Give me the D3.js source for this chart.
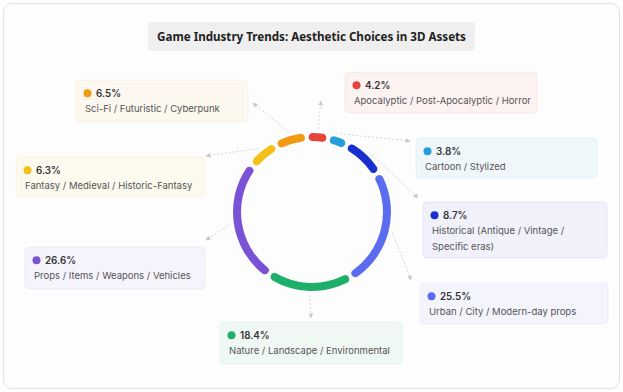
<!DOCTYPE html>
<html><head><meta charset="utf-8">
<script src="https://cdn.jsdelivr.net/npm/d3@7"></script>
<style>
html,body{margin:0;padding:0;background:#fff;}
svg{display:block;}
</style></head>
<body><svg id="chart" width="623" height="392"></svg>
<script>
const title = "Game Industry Trends: Aesthetic Choices in 3D Assets";
const categories = [
  "Apocalyptic / Post-Apocalyptic / Horror",
  "Cartoon / Stylized",
  "Historical (Antique / Vintage / Specific eras)",
  "Urban / City / Modern-day props",
  "Nature / Landscape / Environmental",
  "Props / Items / Weapons / Vehicles",
  "Fantasy / Medieval / Historic-Fantasy",
  "Sci-Fi / Futuristic / Cyberpunk"
];
const values = [4.2, 3.8, 8.7, 25.5, 18.4, 26.6, 6.3, 6.5];
const colors = ["#e5443b", "#259fda", "#1a2fcf", "#5b6cee", "#1eb06a", "#7a52d6", "#f4bf17", "#f29a12"];

// label box layout (annotation placement)
const boxLayout = [
  {x:345, y:72,  w:192, h:41, ex:321, ey:101, wrap:190},
  {x:416, y:138, w:181, h:40, ex:410, ey:141, wrap:170},
  {x:423, y:202, w:184, h:56, ex:418, ey:198, wrap:140},
  {x:420, y:283, w:188, h:41, ex:411, ey:280, wrap:180},
  {x:220, y:322, w:182, h:42, ex:311, ey:318, wrap:180},
  {x:25,  y:247, w:180, h:42, ex:206, ey:240, wrap:180},
  {x:16,  y:157, w:189, h:40, ex:206, ey:156, wrap:185},
  {x:76,  y:80,  w:172, h:42, ex:253, ey:103, wrap:170}
];

const svg = d3.select("#chart");
const W = 623, H = 392;
const cx = 312, cy = 212, rOuter = 79, rInner = 71;

svg.append("rect").attr("x",3.5).attr("y",3.5).attr("width",W-7).attr("height",H-7)
  .attr("rx",8).attr("fill","#fdfdfd").attr("stroke","#e2e2e2");

// title
const tg = svg.append("g");
tg.append("rect").attr("x",148).attr("y",22).attr("width",327).attr("height",29).attr("rx",4).attr("fill","#efefef");
tg.append("text").attr("x",311.5).attr("y",41).attr("text-anchor","middle")
  .attr("font-family","'Noto Sans', 'Open Sans', sans-serif").attr("font-weight","bold")
  .attr("font-size","11.6px").attr("fill","#222").text(title);

const defs = svg.append("defs");
defs.append("marker").attr("id","arr").attr("viewBox","0 0 10 10").attr("refX",9).attr("refY",5)
  .attr("markerWidth",5).attr("markerHeight",5).attr("orient","auto")
  .append("path").attr("d","M0,0 L10,5 L0,10 z").attr("fill","#c8c8c8");

const data = categories.map((c,i)=>({cat:c, value:values[i], color:colors[i], box:boxLayout[i]}));
const off = -0.07;
const pie = d3.pie().sort(null).value(d=>d.value).startAngle(off).endAngle(2*Math.PI+off).padAngle(0.035);
const arcs = pie(data);
const arc = d3.arc().innerRadius(rInner).outerRadius(rOuter).cornerRadius(4);

const g = svg.append("g").attr("transform",`translate(${cx},${cy})`);

// connectors
arcs.forEach(a=>{
  const mid = (a.startAngle+a.endAngle)/2;
  const r0 = rOuter + 4;
  const sx = cx + r0*Math.sin(mid), sy = cy - r0*Math.cos(mid);
  svg.append("line").attr("x1",sx).attr("y1",sy).attr("x2",a.data.box.ex).attr("y2",a.data.box.ey)
    .attr("stroke","#d4d4d4").attr("stroke-width",1).attr("stroke-dasharray","2,2")
    .attr("marker-end","url(#arr)");
});

g.selectAll("path.slice").data(arcs).join("path").attr("class","slice")
  .attr("d",arc).attr("fill",d=>d.data.color);

// label boxes
const fmt = d3.format(".1f");
data.forEach(d=>{
  const b = d.box;
  const bg = svg.append("g").attr("transform",`translate(${b.x},${b.y})`);
  bg.append("rect").attr("width",b.w).attr("height",b.h).attr("rx",4)
    .attr("fill",d.color).attr("fill-opacity",0.06)
    .attr("stroke",d.color).attr("stroke-opacity",0.07);
  bg.append("circle").attr("cx",11.5).attr("cy",13.3).attr("r",4).attr("fill",d.color);
  bg.append("text").attr("x",20).attr("y",17).attr("font-family","Inter, sans-serif")
    .attr("font-weight","600").attr("font-size","9.8px").attr("fill","#333").text(fmt(d.value)+"%");
  const t = bg.append("text").attr("x",9).attr("y",32).attr("font-family","Inter, sans-serif")
    .attr("font-size","9.5px").attr("fill","#555");
  const words = d.cat.split(" ");
  const maxW = b.wrap;
  let line = [];
  let ts = t.append("tspan").attr("x",9).attr("dy",0);
  words.forEach(w=>{
    line.push(w);
    ts.text(line.join(" "));
    if (ts.node().getComputedTextLength() > maxW && line.length>1){
      line.pop(); ts.text(line.join(" "));
      line=[w];
      ts = t.append("tspan").attr("x",9).attr("dy","1.65em").text(w);
    }
  });
});
</script></body></html>
